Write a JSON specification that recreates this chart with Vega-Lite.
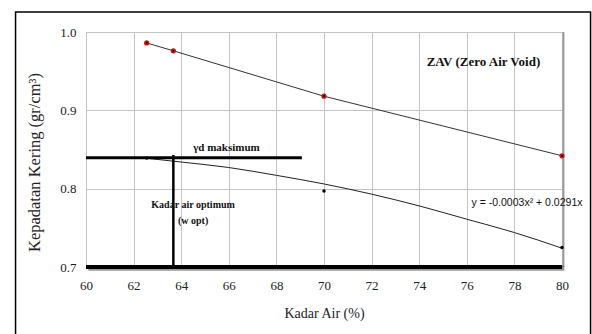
{
  "$schema": "https://vega.github.io/schema/vega-lite/v6.json",
  "width": 476,
  "height": 235,
  "autosize": "none",
  "padding": {"left": 86, "top": 32, "right": 30, "bottom": 67},
  "background": "white",
  "config": {
    "view": {"stroke": null},
    "font": "Liberation Serif",
    "axis": {
      "labelFont": "Liberation Serif",
      "titleFont": "Liberation Serif",
      "labelFontSize": 13,
      "titleFontSize": 14,
      "titleFontWeight": "normal",
      "labelColor": "#222",
      "titleColor": "#222",
      "gridColor": "#c4c4c4",
      "gridWidth": 1,
      "gridOpacity": 1,
      "ticks": false,
      "tickSize": 0,
      "domain": false,
      "labelFlush": false
    }
  },
  "datasets": {
    "one": [{}],
    "zav": [
      {"w": 62.55, "d": 0.986},
      {"w": 63.67, "d": 0.976},
      {"w": 70.0, "d": 0.918},
      {"w": 80.0, "d": 0.842}
    ],
    "lab": [
      {"w": 62.55, "d": 0.839},
      {"w": 70.0, "d": 0.797},
      {"w": 80.0, "d": 0.725}
    ],
    "curve": [
      {"w": 62.5, "d": 0.839},
      {"w": 64, "d": 0.834},
      {"w": 66, "d": 0.827},
      {"w": 68, "d": 0.817},
      {"w": 70, "d": 0.806},
      {"w": 72, "d": 0.793},
      {"w": 74, "d": 0.778},
      {"w": 76, "d": 0.761},
      {"w": 78, "d": 0.744},
      {"w": 80, "d": 0.724}
    ],
    "notes": [
      {"w": 65.9, "d": 0.852, "t": "γd maksimum", "kind": "gd"},
      {"w": 64.5, "d": 0.779, "t": "Kadar air optimum", "kind": "opt"},
      {"w": 64.5, "d": 0.759, "t": "(w opt)", "kind": "opt"},
      {"w": 76.7, "d": 0.962, "t": "ZAV (Zero Air Void)", "kind": "zav"}
    ],
    "eq": [
      {"w": 76.2, "d": 0.782, "t": "y = -0.0003x² + 0.0291x"}
    ]
  },
  "layer": [
    {
      "data": {"name": "zav"},
      "mark": {"type": "line", "color": "#333", "strokeWidth": 1},
      "encoding": {
        "x": {
          "field": "w", "type": "quantitative",
          "scale": {"domain": [60, 80], "zero": false, "nice": false},
          "axis": {
            "title": "Kadar Air (%)",
            "values": [60,61,62,63,64,65,66,67,68,69,70,71,72,73,74,75,76,77,78,79,80],
            "labelExpr": "datum.value % 2 == 0 ? datum.label : ''",
            "labelFont": "Liberation Serif",
            "titleFont": "Liberation Serif",
            "labelFlush": false,
            "labelPadding": 12,
            "titlePadding": 14,
            "grid": true
          }
        },
        "y": {
          "field": "d", "type": "quantitative",
          "scale": {"domain": [0.7, 1.0], "zero": false, "nice": false},
          "axis": {
            "title": "Kepadatan Kering (gr/cm³)",
            "values": [0.7, 0.8, 0.9, 1.0],
            "format": ".1f",
            "labelFont": "Liberation Serif",
            "titleFont": "Liberation Serif",
            "titleFontSize": 16.5,
            "titleY": 130,
            "labelFlush": false,
            "labelPadding": 10,
            "titlePadding": 17,
            "grid": true
          }
        }
      }
    },
    {
      "data": {"name": "one"},
      "mark": {"type": "rect", "fill": null, "stroke": "black", "strokeWidth": 1.5, "clip": false},
      "encoding": {
        "x": {"datum": 57.04, "type": "quantitative", "scale": {"domain": [60, 80]}},
        "x2": {"datum": 81.2},
        "y": {"datum": 1.0255, "type": "quantitative", "scale": {"domain": [0.7, 1.0]}},
        "y2": {"datum": 0.6}
      }
    },
    {
      "data": {"name": "one"},
      "mark": {"type": "rule", "color": "#9a9a9a", "strokeWidth": 2},
      "encoding": {
        "x": {"datum": 80.06, "type": "quantitative", "scale": {"domain": [60, 80]}},
        "y": {"datum": 1.0, "type": "quantitative", "scale": {"domain": [0.7, 1.0]}},
        "y2": {"datum": 0.7}
      }
    },
    {
      "data": {"name": "zav"},
      "mark": {"type": "point", "filled": true, "fill": "#111", "stroke": "#d01010", "strokeWidth": 1.5, "size": 14, "opacity": 1},
      "encoding": {
        "x": {"field": "w", "type": "quantitative"},
        "y": {"field": "d", "type": "quantitative"}
      }
    },
    {
      "data": {"name": "curve"},
      "mark": {"type": "line", "color": "#222", "strokeWidth": 1, "interpolate": "monotone"},
      "encoding": {
        "x": {"field": "w", "type": "quantitative"},
        "y": {"field": "d", "type": "quantitative"}
      }
    },
    {
      "data": {"name": "lab"},
      "mark": {"type": "point", "filled": true, "color": "black", "size": 12, "opacity": 1},
      "encoding": {
        "x": {"field": "w", "type": "quantitative"},
        "y": {"field": "d", "type": "quantitative"}
      }
    },
    {
      "data": {"name": "one"},
      "mark": {"type": "rule", "color": "#555", "strokeWidth": 5, "opacity": 0.6},
      "encoding": {
        "x": {"datum": 60.1, "type": "quantitative", "scale": {"domain": [60, 80]}},
        "x2": {"datum": 80.1},
        "y": {"datum": 0.6985, "type": "quantitative", "scale": {"domain": [0.7, 1.0]}}
      }
    },
    {
      "data": {"name": "one"},
      "mark": {"type": "rule", "color": "black", "strokeWidth": 4},
      "encoding": {
        "x": {"datum": 60, "type": "quantitative"},
        "x2": {"datum": 80},
        "y": {"datum": 0.7, "type": "quantitative"}
      }
    },
    {
      "data": {"name": "one"},
      "mark": {"type": "rule", "color": "black", "strokeWidth": 2.8},
      "encoding": {
        "x": {"datum": 60, "type": "quantitative"},
        "x2": {"datum": 69.07},
        "y": {"datum": 0.8395, "type": "quantitative"}
      }
    },
    {
      "data": {"name": "one"},
      "mark": {"type": "rule", "color": "black", "strokeWidth": 2.5},
      "encoding": {
        "x": {"datum": 63.67, "type": "quantitative"},
        "y": {"datum": 0.843, "type": "quantitative"},
        "y2": {"datum": 0.7}
      }
    },
    {
      "data": {"name": "notes"},
      "transform": [{"filter": "datum.kind == 'gd'"}],
      "mark": {"type": "text", "font": "Liberation Serif", "fontSize": 11, "fontWeight": "bold", "color": "#111", "align": "center", "baseline": "middle"},
      "encoding": {
        "x": {"field": "w", "type": "quantitative"},
        "y": {"field": "d", "type": "quantitative"},
        "text": {"field": "t"}
      }
    },
    {
      "data": {"name": "notes"},
      "transform": [{"filter": "datum.kind == 'opt'"}],
      "mark": {"type": "text", "font": "Liberation Serif", "fontSize": 10, "fontWeight": "bold", "color": "#111", "align": "center", "baseline": "middle"},
      "encoding": {
        "x": {"field": "w", "type": "quantitative"},
        "y": {"field": "d", "type": "quantitative"},
        "text": {"field": "t"}
      }
    },
    {
      "data": {"name": "notes"},
      "transform": [{"filter": "datum.kind == 'zav'"}],
      "mark": {"type": "text", "font": "Liberation Serif", "fontSize": 13, "fontWeight": "bold", "color": "#111", "align": "center", "baseline": "middle"},
      "encoding": {
        "x": {"field": "w", "type": "quantitative"},
        "y": {"field": "d", "type": "quantitative"},
        "text": {"field": "t"}
      }
    },
    {
      "data": {"name": "eq"},
      "mark": {"type": "text", "font": "Liberation Sans", "fontSize": 10.5, "color": "#111", "align": "left", "baseline": "middle"},
      "encoding": {
        "x": {"field": "w", "type": "quantitative"},
        "y": {"field": "d", "type": "quantitative"},
        "text": {"field": "t"}
      }
    }
  ]
}
